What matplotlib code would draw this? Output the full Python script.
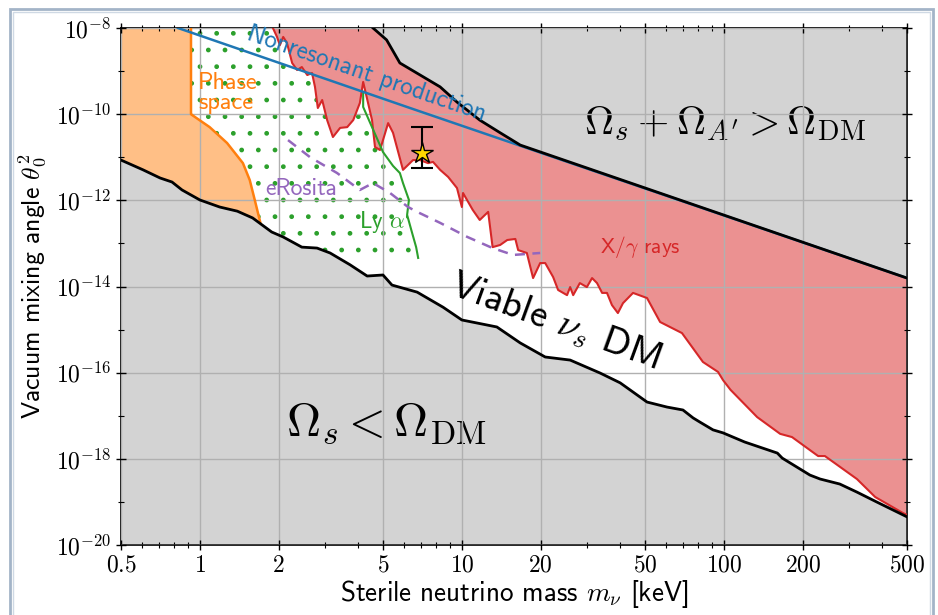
import numpy as np
import matplotlib
matplotlib.use("Agg")
import matplotlib.pyplot as plt
from matplotlib.ticker import FixedLocator, NullFormatter, FuncFormatter, LogLocator
from matplotlib.patches import Rectangle

plt.rcParams['mathtext.fontset'] = 'cm'
plt.rcParams['font.family'] = ['cmss10', 'DejaVu Sans']
plt.rcParams['hatch.linewidth'] = 1.0

# ---------------- data (mass in keV, mixing angle theta_0^2) ----------------
# lower boundary: Omega_s < Omega_DM
low_m = [0.5, 0.607, 0.705, 0.783, 0.855, 1.0, 1.19, 1.39, 1.59, 1.88, 2.08, 2.45, 2.80,
         3.14, 3.74, 4.35, 5.00, 5.41, 6.75, 8.48, 10.0, 13.6, 16.7, 20.8, 25.9, 33.7,
         40.2, 50.9, 60.7, 69.8, 76.3, 81.1, 90.9, 99.3, 120, 160, 167, 213, 233, 277,
         322, 384, 500]
low_t = [8.6e-12, 5.1e-12, 3.3e-12, 2.66e-12, 1.74e-12, 1.02e-12, 7.0e-13, 5.6e-13,
         3.9e-13, 1.84e-13, 1.41e-13, 8.2e-14, 7.8e-14, 6.0e-14, 3.2e-14, 1.75e-14,
         1.85e-14, 1.08e-14, 7.4e-15, 3.3e-15, 1.67e-15, 1.15e-15, 4.9e-16, 2.31e-16,
         1.96e-16, 9.8e-17, 5.8e-17, 2.08e-17, 1.59e-17, 1.36e-17, 8.9e-18, 7.1e-18,
         4.7e-18, 4.0e-18, 2.46e-18, 1.36e-18, 1.04e-18, 4.2e-19, 3.4e-19, 2.60e-19,
         1.69e-19, 9.9e-20, 4.5e-20]

# upper boundary: Omega_s + Omega_A' > Omega_DM
up_m = [4.58, 5.16, 5.80, 8.26, 9.58, 11.7, 14.0, 16.7, 500]
up_t = [1e-8, 5.3e-9, 1.54e-9, 4.3e-10, 1.91e-10, 7.3e-11, 3.7e-11, 1.92e-11, 1.57e-14]

# nonresonant production
nr_m = [0.825, 6.34, 500]
nr_t = [1e-8, 1.39e-10, 1.57e-14]

# X / gamma ray bound (lower edge of excluded region)
xr_m = [1.90, 1.97, 2.02, 2.08, 2.15, 2.25, 2.35, 2.45, 2.57, 2.68, 2.75, 2.82, 2.93,
        3.06, 3.22, 3.43, 3.65, 3.85, 4.08, 4.20, 4.54, 4.66, 4.87, 5.23, 5.46, 5.96,
        6.51, 6.92, 7.43, 7.76, 8.26, 8.86, 9.58, 10.0, 10.1, 11.0, 11.7, 12.6, 13.1,
        14.0, 14.9, 16.0, 16.4, 17.7, 18.7, 19.9, 20.8, 22.3, 23.3, 25.2, 25.9, 26.6,
        28.2, 30.0, 31.4, 32.8, 34.3, 35.8, 37.4, 39.4, 41.2, 45.0, 50.9, 57.1, 69.2,
        83.2, 95.0, 99.3, 106, 134, 164, 182, 229, 243, 322, 378, 483, 500]
xr_t = [1e-8, 6.2e-9, 4.0e-9, 6.2e-9, 4.5e-9, 1.54e-9, 1.06e-9, 1.24e-9, 8.1e-10,
        9.0e-10, 4.3e-10, 1.39e-10, 2.13e-10, 7.3e-11, 2.95e-11, 4.8e-11, 5.0e-11,
        7.3e-11, 1.82e-10, 5.6e-10, 7.3e-11, 1.73e-11, 1.47e-11, 6.2e-11, 3.7e-11,
        5.1e-12, 8.6e-12, 8.6e-12, 7.3e-12, 7.8e-12, 5.1e-12, 3.5e-12, 1.93e-12,
        7.0e-13, 1.48e-12, 6.0e-13, 3.5e-13, 5.4e-13, 8.2e-14, 9.2e-14, 1.20e-13,
        1.27e-13, 7.0e-14, 6.0e-14, 1.57e-14, 3.5e-14, 3.5e-14, 1.66e-14, 8.3e-15,
        6.3e-15, 9.7e-15, 6.3e-15, 1.20e-14, 9.7e-15, 1.57e-14, 1.20e-14, 7.1e-15,
        7.1e-15, 3.7e-15, 2.42e-15, 4.1e-15, 7.1e-15, 5.4e-15, 1.50e-15, 8.3e-16,
        1.77e-16, 1.04e-16, 6.7e-17, 4.0e-17, 9.3e-18, 3.8e-18, 3.2e-18, 1.16e-18,
        1.16e-18, 3.4e-19, 1.30e-19, 5.5e-20, 5.0e-20]

# phase space bound
ps_m = [0.925, 0.925, 0.933, 1.09, 1.27, 1.46, 1.55, 1.62, 1.70]
ps_t = [1e-8, 1e-10, 9.6e-11, 5.0e-11, 2.14e-11, 7.3e-12, 2.96e-12, 1.02e-12, 3.1e-13]

# Lyman-alpha bound
lya_m = [4.20, 4.20, 4.54, 5.00, 5.46, 5.80, 5.96, 6.28, 6.18, 6.46, 6.69, 6.81]
lya_t = [3.3e-10, 1.47e-10, 5.0e-11, 1.32e-11, 6.3e-12, 4.3e-12, 2.52e-12, 1.02e-12,
         4.6e-13, 1.74e-13, 8.2e-14, 4.6e-14]
lya_floor_m = [3.28]

# eRosita sensitivity
ero_m = [2.17, 2.63, 3.34, 4.08, 4.58, 5.32, 6.23, 6.75, 8.26, 10.5, 13.1, 15.7, 19.9]
ero_t = [2.5e-11, 1.01e-11, 4.3e-12, 1.74e-12, 2.52e-12, 1.48e-12, 7.0e-13, 5.4e-13,
         3.0e-13, 1.41e-13, 7.8e-14, 5.4e-14, 6.0e-14]

# 3.5 keV line
star_m = [7.05]
star_t = [1.25e-11]
star_lo = [5.6e-12]
star_hi = [5.0e-11]

xticks = [0.5, 1, 2, 5, 10, 20, 50, 100, 200, 500]
yticks_exp = [-20, -18, -16, -14, -12, -10, -8]
yminor_exp = [-19, -17, -15, -13, -11, -9]
xlim = (0.5, 500)
ylim = (1e-20, 1e-8)

# ---------------- figure ----------------
fig = plt.figure(figsize=(9.38, 6.15), dpi=100)
ax = fig.add_axes([121 / 938, 1 - 545 / 615, (907 - 121) / 938, (545 - 28) / 615])
ax.set_xscale('log')
ax.set_yscale('log')
ax.set_xlim(*xlim)
ax.set_ylim(*ylim)

ytop, ybot = ylim[1], ylim[0]
xl, xr = xlim

# Lyman-alpha hatched region
hx = [xl, lya_m[0]] + lya_m + [lya_floor_m[0], lya_floor_m[0], xl]
hy = [ytop, ytop] + lya_t + [lya_t[-1], ybot, ybot]
ax.fill(hx, hy, facecolor='none', edgecolor='#2ca02c', hatch='.', linewidth=0, zorder=0.5)

# phase space region
px_ = [xl] + ps_m + [ps_m[-1], xl]
py_ = [ytop] + ps_t + [ybot, ybot]
ax.fill(px_, py_, facecolor='#ffbf86', edgecolor='none', zorder=1.0)

# X-ray region: between X-ray bound and upper boundary
up_full_m = [xr_m[0]] + up_m
up_full_t = [ytop] + up_t
rx = xr_m + up_full_m[::-1]
ry = xr_t + up_full_t[::-1]
ax.fill(rx, ry, facecolor='#eb9191', edgecolor='none', zorder=1.1)

# gray regions
ax.fill_between(up_m, up_t, ytop, facecolor='#d3d3d3', edgecolor='none', zorder=1.2)
ax.fill_between(low_m, low_t, ybot, facecolor='#d3d3d3', edgecolor='none', zorder=1.2)

# lines
ax.plot(ps_m, ps_t, color='#ff7f0e', lw=1.8, zorder=3)
ax.plot(xr_m, xr_t, color='#d62728', lw=1.5, zorder=3)
ax.plot(lya_m, lya_t, color='#2ca02c', lw=1.5, zorder=3)
ax.plot(ero_m, ero_t, color='#9467bd', lw=1.8, ls=(0, (4, 3)), zorder=3)
ax.plot(nr_m, nr_t, color='#1f77b4', lw=1.8, zorder=3)
ax.plot(up_m, up_t, color='black', lw=2.0, zorder=3.1)
ax.plot(low_m, low_t, color='black', lw=2.0, zorder=3.1)

yerr = [[star_t[0] - star_lo[0]], [star_hi[0] - star_t[0]]]
ax.errorbar(star_m, star_t, yerr=yerr, fmt='none', ecolor='black', elinewidth=1.5,
            capsize=8, capthick=1.5, zorder=4)
ax.plot(star_m, star_t, marker='*', ms=16, mfc='#ffd700', mec='black', mew=1.0,
        ls='none', zorder=5)

# texts
ax.text(101, 6.2e-11, r"$\Omega_s + \Omega_{A'} > \Omega_{\mathrm{DM}}$", fontsize=29,
        ha='center', va='center', zorder=2.4)
ax.text(5.13, 6.8e-18, r"$\Omega_s < \Omega_{\mathrm{DM}}$", fontsize=34,
        ha='center', va='center', zorder=2.4)
ax.text(22.7, 1.5e-15, r"Viable $\nu_s$ DM", fontsize=28, rotation=-20,
        ha='center', va='center', rotation_mode='anchor', zorder=4)
ax.text(4.31, 8.5e-10, "Nonresonant production", fontsize=18, color='#1f77b4',
        rotation=-19, ha='center', va='center', rotation_mode='anchor', zorder=4)
ax.text(0.984, 3.1e-10, "Phase\nspace", fontsize=17.5, color='#ff7f0e',
        ha='left', va='center', linespacing=0.85, zorder=4)
ax.text(2.43, 1.83e-12, "eRosita", fontsize=17, color='#9467bd',
        ha='center', va='center', zorder=4)
ax.text(4.96, 3.1e-13, r"Ly $\alpha$", fontsize=16.5, color='#2ca02c',
        ha='center', va='center', zorder=4)
ax.text(47.9, 8.2e-14, r"X/$\gamma$ rays", fontsize=15.5, color='#d62728',
        ha='center', va='center', zorder=4)

# ticks
ax.xaxis.set_major_locator(FixedLocator(xticks))
ax.xaxis.set_major_formatter(FuncFormatter(lambda v, _: f"${v:g}$"))
ax.xaxis.set_minor_locator(LogLocator(base=10, subs=np.arange(2, 10)))
ax.xaxis.set_minor_formatter(NullFormatter())
ax.yaxis.set_major_locator(FixedLocator([10.0 ** e for e in yticks_exp]))
ax.yaxis.set_major_formatter(FuncFormatter(lambda v, _: r"$10^{%d}$" % round(np.log10(v))))
ax.yaxis.set_minor_locator(FixedLocator([10.0 ** e for e in yminor_exp]))
ax.yaxis.set_minor_formatter(NullFormatter())
ax.tick_params(which='both', direction='inout', top=True, right=True, labelsize=17)
ax.tick_params(which='major', length=7, width=1)
ax.tick_params(which='minor', length=4, width=0.8)

ax.set_axisbelow(False)
ax.grid(True, which='major', color='#b0b0b0', lw=1.0)

ax.set_xlabel(r"Sterile neutrino mass $m_\nu$ [keV]", fontsize=19.5, labelpad=1)
ax.set_ylabel(r"Vacuum mixing angle $\theta_0^2$", fontsize=18.5, labelpad=5)
for s in ax.spines.values():
    s.set_linewidth(1.2)

# slide frame
fig.patches.append(Rectangle((10 / 938, -0.02), 923 / 938, 1.02 - 9 / 615,
                             transform=fig.transFigure, fill=False,
                             edgecolor='#a3b4c8', lw=2.0, zorder=0))
fig.patches.append(Rectangle((13 / 938, -0.02), 917 / 938, 1.02 - 12 / 615,
                             transform=fig.transFigure, fill=False,
                             edgecolor='#cfd9e4', lw=1.0, zorder=0))

fig.savefig('out.png', dpi=100)
